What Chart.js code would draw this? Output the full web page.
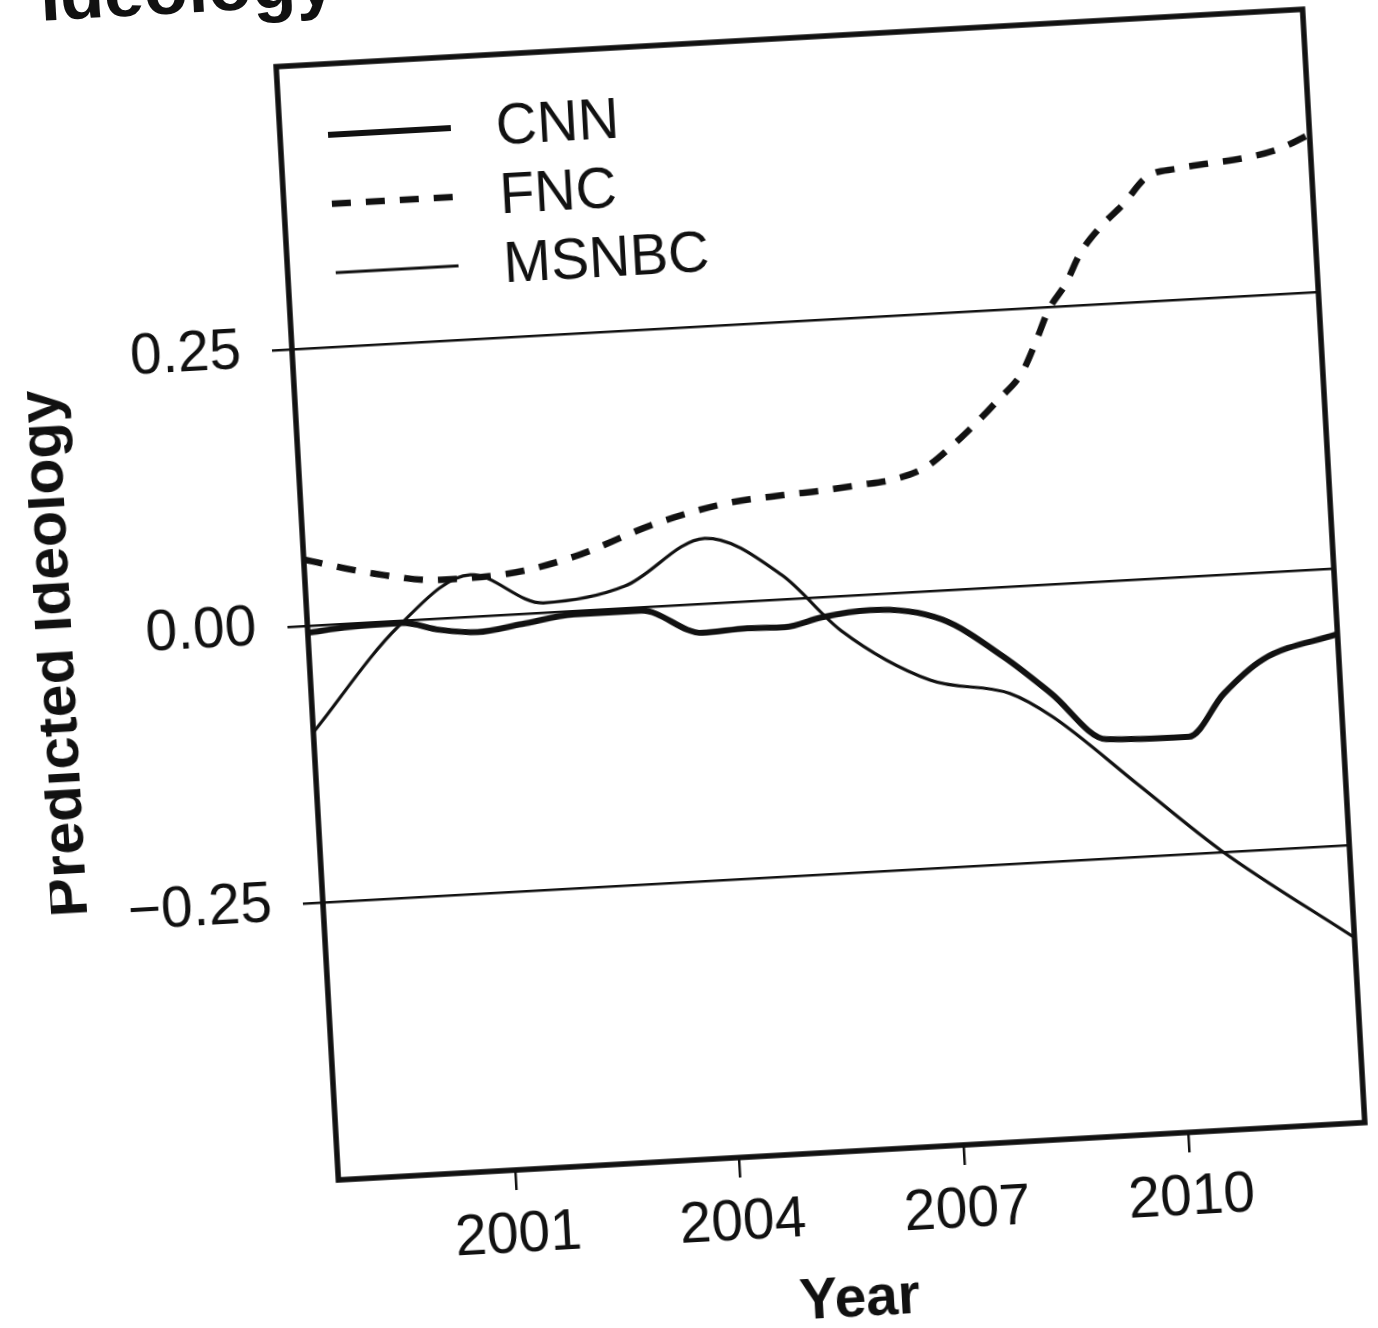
<!DOCTYPE html>
<html>
<head>
<meta charset="utf-8">
<script src="https://cdn.jsdelivr.net/npm/chart.js@4.4.1/dist/chart.umd.min.js"></script>
<style>
  html, body { margin:0; padding:0; background:#fff; width:1378px; height:1328px; overflow:hidden; }
  #page { position:absolute; left:0; top:0; width:1420px; height:1400px; transform-origin:0 0; transform:rotate(-3.2deg); }
  #head { position:absolute; left:40px; top:-38px; font:bold 72px "Liberation Sans", Arial, sans-serif; line-height:1; color:#111; white-space:nowrap; }
  canvas { position:absolute; left:0; top:0; }
</style>
</head>
<body>
<div id="page">
  <div id="head">Ideology</div>
  <canvas id="c" width="1420" height="1400"></canvas>
</div>
<script>
// ---- data ----
const seriesNames = ['CNN', 'FNC', 'MSNBC'];

const cnnYears  = [1998.64, 1999.2, 1999.9, 2000.4, 2000.9, 2001.5, 2002.2, 2003.1, 2003.9, 2004.5, 2005.0, 2005.5, 2006.15, 2007.1, 2007.9, 2008.5, 2009.2, 2010.3, 2010.8, 2011.35, 2012.36];
const cnnValues = [-0.006, -0.003, -0.002, -0.010, -0.014, -0.009, -0.003, -0.003, -0.026, -0.024, -0.025, -0.018, -0.014, -0.026, -0.063, -0.098, -0.142, -0.144, -0.107, -0.078, -0.059];

const fncYears  = [1998.64, 1999.56, 2000.44, 2001.34, 2002.24, 2003.37, 2004.28, 2005.08, 2005.6, 2006.07, 2006.6, 2007.0, 2007.35, 2007.7, 2008.0, 2008.35, 2008.55, 2008.75, 2009.0, 2009.22, 2009.5, 2009.83, 2010.16, 2010.57, 2011.0, 2011.46, 2011.92, 2012.36];
const fncValues = [0.060, 0.044, 0.035, 0.037, 0.049, 0.075, 0.089, 0.094, 0.096, 0.099, 0.103, 0.112, 0.129, 0.149, 0.168, 0.192, 0.218, 0.247, 0.270, 0.297, 0.319, 0.339, 0.362, 0.368, 0.371, 0.374, 0.380, 0.392];

const msnbcYears  = [1998.64, 1999.85, 2000.85, 2001.8, 2002.9, 2004.0, 2005.0, 2005.75, 2006.9, 2007.95, 2008.5, 2009.6, 2010.65, 2012.36];
const msnbcValues = [-0.096, -0.005, 0.038, 0.009, 0.020, 0.059, 0.022, -0.031, -0.080, -0.096, -0.119, -0.185, -0.248, -0.333];

const xTickYears  = [2001, 2004, 2007, 2010];
const yTickValues = [-0.25, 0, 0.25];
const yTickLabels = ['\u22120.25', '0.00', '0.25'];
const xRange = [1998.64, 2012.36];
const yRange = [-0.5, 0.505];
const xTitle = 'Year';
const yTitle = 'Predicted Ideology';

// ---- chart ----
const FONT = '"Liberation Sans", Arial, Helvetica, sans-serif';
const INK = '#111';
const toPts = (xs, ys) => xs.map((x, i) => ({ x: x, y: ys[i] }));

const styles = [
  { borderWidth: 6,   borderDash: [] },
  { borderWidth: 6.5, borderDash: [19, 15] },
  { borderWidth: 3.2, borderDash: [] }
];
const allData = [toPts(cnnYears, cnnValues), toPts(fncYears, fncValues), toPts(msnbcYears, msnbcValues)];

const frameAndLegend = {
  id: 'frameAndLegend',
  afterDatasetsDraw(chart) {
    const { ctx, chartArea: a } = chart;
    ctx.save();
    // plot frame
    ctx.strokeStyle = INK; ctx.lineWidth = 5.5; ctx.setLineDash([]);
    ctx.strokeRect(a.left, a.top, a.right - a.left, a.bottom - a.top);
    // legend
    ctx.font = '57px ' + FONT;
    ctx.fillStyle = INK; ctx.textBaseline = 'middle'; ctx.textAlign = 'left';
    seriesNames.forEach((name, i) => {
      const y = a.top + 71 + i * 69;
      ctx.beginPath();
      ctx.lineWidth = styles[i].borderWidth;
      ctx.setLineDash(styles[i].borderDash);
      ctx.moveTo(a.left + 48, y);
      ctx.lineTo(a.left + 171, y);
      ctx.stroke();
      ctx.setLineDash([]);
      ctx.fillText(name, a.left + 216, y + 3);
    });
    // y axis title
    ctx.translate(20, (a.top + a.bottom) / 2 + 16);
    ctx.rotate(-Math.PI / 2);
    ctx.textAlign = 'center';
    ctx.font = 'bold 59px ' + FONT;
    ctx.fillText(yTitle, 0, 0);
    ctx.restore();
  }
};

new Chart(document.getElementById('c'), {
  type: 'line',
  data: {
    datasets: seriesNames.map((n, i) => ({
      label: n,
      data: allData[i],
      borderColor: INK,
      borderWidth: styles[i].borderWidth,
      borderDash: styles[i].borderDash,
      pointRadius: 0,
      fill: false,
      cubicInterpolationMode: 'monotone'
    }))
  },
  options: {
    responsive: false,
    animation: false,
    devicePixelRatio: 1,
    layout: { padding: { left: 0, right: 120, top: 82, bottom: 20 } },
    plugins: { legend: { display: false }, tooltip: { enabled: false } },
    scales: {
      x: {
        type: 'linear', min: xRange[0], max: xRange[1],
        afterBuildTicks: s => { s.ticks = xTickYears.map(v => ({ value: v })); },
        afterFit: s => { s.height = 183; },
        grid: { drawOnChartArea: false, drawTicks: true, tickLength: 20, color: INK, lineWidth: 2.5 },
        border: { display: false },
        ticks: { autoSkip: false, maxRotation: 0, padding: 12, color: INK, font: { family: FONT, size: 57 }, callback: v => String(v) },
        title: { display: true, text: xTitle, color: INK, font: { family: FONT, size: 57, weight: 'bold' }, padding: 0 }
      },
      y: {
        min: yRange[0], max: yRange[1],
        afterBuildTicks: s => { s.ticks = yTickValues.map(v => ({ value: v })); },
        afterFit: s => { s.width = 272; },
        grid: { drawOnChartArea: true, drawTicks: true, tickLength: 20, color: INK, lineWidth: 2.5 },
        border: { display: false },
        ticks: { padding: 31, color: INK, font: { family: FONT, size: 57 }, callback: v => yTickLabels[yTickValues.indexOf(v)] },
        title: { display: false, text: yTitle }
      }
    }
  },
  plugins: [frameAndLegend]
});
</script>
</body>
</html>
